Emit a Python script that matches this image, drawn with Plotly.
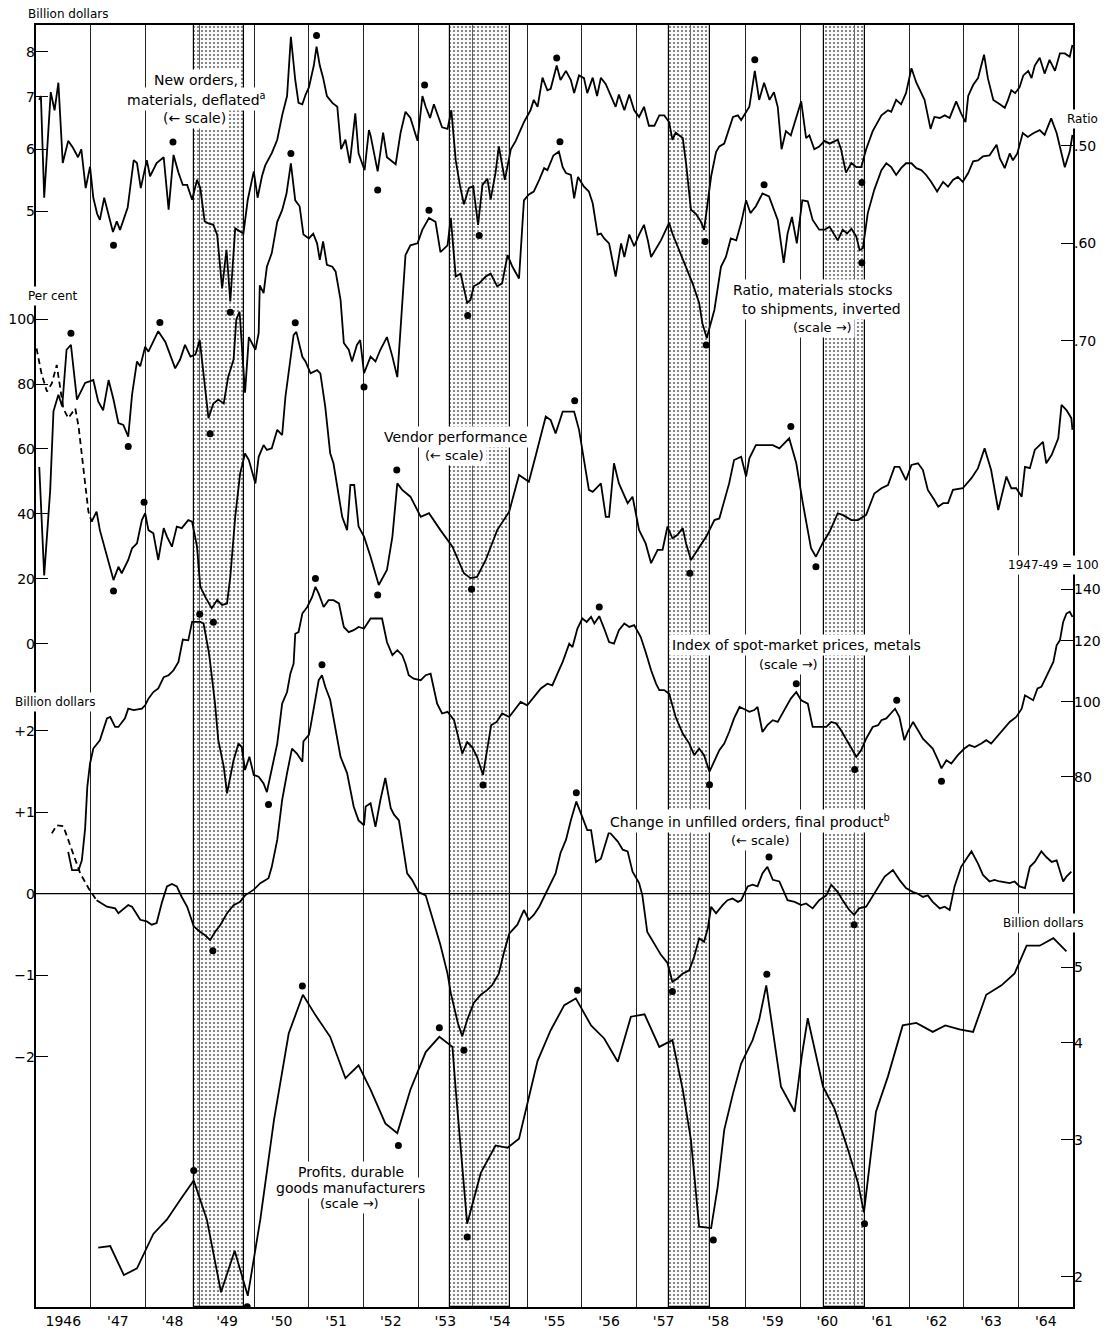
import plotly.graph_objects as go

# ---------------- data ----------------
YEAR_LABELS = ["1946", "'47", "'48", "'49", "'50", "'51", "'52", "'53", "'54", "'55",
               "'56", "'57", "'58", "'59", "'60", "'61", "'62", "'63", "'64"]
RECESSION_START = [1948.90, 1953.58, 1957.59, 1960.43]
RECESSION_END = [1949.82, 1954.68, 1958.35, 1961.18]

# New orders, materials, deflated (billion dollars, log scale, left)
NEW_ORDERS = [
    (1946.06, 6.94), (1946.09, 7.02), (1946.15, 5.2), (1946.27, 7.1), (1946.34, 6.73), (1946.41, 7.3),
    (1946.49, 5.76), (1946.59, 6.15), (1946.68, 6.02), (1946.77, 5.86), (1946.83, 6.0), (1946.91, 5.35),
    (1946.99, 5.7), (1947.05, 5.2), (1947.12, 4.96), (1947.17, 4.87), (1947.25, 5.2), (1947.41, 4.7),
    (1947.48, 4.85), (1947.54, 4.73), (1947.68, 5.05), (1947.79, 5.81), (1947.85, 5.76), (1947.92, 5.35),
    (1948.03, 5.81), (1948.09, 5.54), (1948.21, 5.76), (1948.34, 5.86), (1948.43, 5.02), (1948.52, 5.9),
    (1948.61, 5.6), (1948.69, 5.4), (1948.77, 5.4), (1948.86, 5.17), (1948.95, 5.48), (1949.01, 5.35),
    (1949.09, 4.85), (1949.16, 4.82), (1949.25, 4.8), (1949.32, 4.66), (1949.41, 3.98), (1949.49, 4.46),
    (1949.56, 3.83), (1949.65, 4.75), (1949.80, 4.68), (1949.88, 5.17), (1949.99, 5.62), (1950.06, 5.2),
    (1950.14, 5.54), (1950.20, 5.72), (1950.32, 5.93), (1950.42, 6.17), (1950.51, 6.63), (1950.60, 7.02),
    (1950.67, 8.36), (1950.75, 7.36), (1950.81, 6.88), (1950.88, 6.85), (1950.94, 7.05), (1951.00, 7.2),
    (1951.09, 7.68), (1951.14, 8.12), (1951.20, 7.68), (1951.26, 7.41), (1951.33, 7.02), (1951.43, 6.88),
    (1951.52, 6.8), (1951.59, 6.0), (1951.67, 6.17), (1951.75, 5.76), (1951.85, 6.67), (1951.91, 5.93),
    (1952.02, 5.64), (1952.10, 6.35), (1952.13, 6.25), (1952.26, 5.62), (1952.36, 6.3), (1952.43, 5.86),
    (1952.59, 5.74), (1952.68, 6.3), (1952.77, 6.7), (1952.86, 6.58), (1952.99, 6.15), (1953.08, 7.02),
    (1953.14, 6.8), (1953.22, 6.58), (1953.29, 6.85), (1953.44, 6.4), (1953.54, 6.37), (1953.61, 6.73),
    (1953.69, 5.81), (1953.77, 5.38), (1953.84, 5.1), (1953.93, 5.35), (1954.01, 5.38), (1954.10, 4.8),
    (1954.18, 5.4), (1954.27, 5.5), (1954.33, 5.17), (1954.42, 5.6), (1954.48, 6.05), (1954.54, 5.76),
    (1954.59, 5.48), (1954.70, 6.0), (1954.79, 6.15), (1954.94, 6.5), (1955.06, 6.73), (1955.12, 6.94),
    (1955.19, 6.8), (1955.28, 7.41), (1955.37, 7.14), (1955.43, 7.17), (1955.54, 7.68), (1955.61, 7.36),
    (1955.71, 7.56), (1955.80, 7.36), (1955.86, 7.08), (1955.95, 7.46), (1956.04, 7.40), (1956.10, 7.08),
    (1956.20, 7.41), (1956.28, 7.02), (1956.35, 7.41), (1956.44, 7.27), (1956.53, 7.02), (1956.62, 6.8),
    (1956.68, 7.05), (1956.78, 6.73), (1956.87, 7.05), (1956.96, 6.73), (1957.05, 6.6), (1957.14, 6.8),
    (1957.23, 6.43), (1957.33, 6.43), (1957.42, 6.63), (1957.51, 6.63), (1957.60, 6.5), (1957.66, 6.17),
    (1957.72, 6.3), (1957.85, 6.2), (1957.91, 5.76), (1958.00, 5.02), (1958.09, 4.96), (1958.18, 4.85),
    (1958.24, 4.73), (1958.37, 5.54), (1958.46, 5.95), (1958.52, 6.05), (1958.61, 6.1), (1958.70, 6.4),
    (1958.77, 6.6), (1958.86, 6.63), (1958.92, 6.54), (1959.07, 6.8), (1959.17, 7.56), (1959.25, 6.94),
    (1959.34, 7.3), (1959.44, 6.94), (1959.52, 7.1), (1959.59, 6.8), (1959.66, 6.0), (1959.74, 6.33),
    (1959.83, 6.25), (1960.02, 6.91), (1960.11, 6.2), (1960.17, 6.25), (1960.26, 6.0), (1960.35, 6.05),
    (1960.45, 6.15), (1960.54, 6.1), (1960.69, 6.17), (1960.75, 6.0), (1960.84, 5.6), (1960.94, 5.76),
    (1961.03, 5.69), (1961.12, 5.69), (1961.21, 6.0), (1961.33, 6.33), (1961.49, 6.63), (1961.61, 6.73),
    (1961.67, 6.7), (1961.76, 6.94), (1961.85, 6.85), (1961.94, 7.08), (1962.04, 7.62), (1962.13, 7.3),
    (1962.28, 6.94), (1962.39, 6.37), (1962.46, 6.6), (1962.56, 6.58), (1962.65, 6.63), (1962.74, 6.58),
    (1962.86, 6.91), (1962.95, 6.67), (1963.03, 6.5), (1963.08, 7.02), (1963.17, 7.25), (1963.26, 7.4),
    (1963.37, 7.93), (1963.44, 7.4), (1963.54, 6.94), (1963.66, 6.85), (1963.75, 6.78), (1963.81, 6.94),
    (1963.87, 7.14), (1963.94, 7.08), (1964.02, 7.2), (1964.09, 7.46), (1964.18, 7.56), (1964.24, 7.4),
    (1964.30, 7.68), (1964.39, 7.86), (1964.48, 7.5), (1964.57, 7.81), (1964.67, 7.56), (1964.76, 7.96),
    (1964.85, 7.96), (1964.94, 7.88), (1964.99, 8.16),
]
NEW_ORDERS_DOTS = [(1947.42, 4.52), (1948.51, 6.13), (1949.56, 3.71), (1951.14, 8.39), (1952.26, 5.32),
                   (1953.12, 7.25), (1954.12, 4.65), (1955.54, 7.85), (1958.26, 4.57), (1959.17, 7.81),
                   (1961.13, 5.44)]

# Ratio, materials stocks to shipments (inverted scale, right)
RATIO = [
    (1946.06, 0.829), (1946.15, 0.940), (1946.26, 0.853), (1946.32, 0.772), (1946.41, 0.755), (1946.48, 0.767),
    (1946.56, 0.709), (1946.64, 0.704), (1946.75, 0.760), (1946.90, 0.743), (1947.05, 0.740), (1947.14, 0.762),
    (1947.23, 0.771), (1947.33, 0.740), (1947.42, 0.760), (1947.51, 0.784), (1947.60, 0.786), (1947.69, 0.798),
    (1947.76, 0.755), (1947.85, 0.721), (1947.91, 0.726), (1948.00, 0.706), (1948.06, 0.711), (1948.24, 0.690),
    (1948.37, 0.701), (1948.55, 0.728), (1948.64, 0.719), (1948.73, 0.704), (1948.83, 0.716), (1948.92, 0.714),
    (1949.00, 0.699), (1949.07, 0.737), (1949.16, 0.779), (1949.25, 0.764), (1949.34, 0.760), (1949.44, 0.764),
    (1949.52, 0.737), (1949.62, 0.719), (1949.67, 0.678), (1949.73, 0.670), (1949.83, 0.753), (1949.90, 0.696),
    (1950.02, 0.709), (1950.08, 0.692), (1950.10, 0.643), (1950.17, 0.651), (1950.23, 0.624), (1950.32, 0.610),
    (1950.42, 0.578), (1950.51, 0.566), (1950.59, 0.549), (1950.67, 0.518), (1950.75, 0.556), (1950.83, 0.562),
    (1950.90, 0.591), (1951.00, 0.595), (1951.08, 0.590), (1951.15, 0.600), (1951.20, 0.617), (1951.26, 0.598),
    (1951.33, 0.622), (1951.43, 0.624), (1951.49, 0.629), (1951.58, 0.658), (1951.64, 0.702), (1951.73, 0.709),
    (1951.79, 0.721), (1951.88, 0.704), (1951.94, 0.699), (1952.01, 0.733), (1952.13, 0.716), (1952.22, 0.721),
    (1952.31, 0.709), (1952.43, 0.696), (1952.53, 0.716), (1952.62, 0.737), (1952.68, 0.689), (1952.77, 0.612),
    (1952.86, 0.602), (1952.99, 0.600), (1953.08, 0.586), (1953.20, 0.574), (1953.32, 0.578), (1953.41, 0.609),
    (1953.54, 0.602), (1953.60, 0.574), (1953.69, 0.634), (1953.78, 0.631), (1953.90, 0.661), (1953.96, 0.658),
    (1954.02, 0.644), (1954.12, 0.641), (1954.24, 0.634), (1954.33, 0.631), (1954.45, 0.644), (1954.54, 0.641),
    (1954.64, 0.612), (1954.73, 0.624), (1954.85, 0.636), (1954.94, 0.556), (1955.03, 0.550), (1955.12, 0.547),
    (1955.22, 0.535), (1955.31, 0.523), (1955.37, 0.525), (1955.48, 0.510), (1955.58, 0.506), (1955.65, 0.522),
    (1955.71, 0.528), (1955.80, 0.530), (1955.86, 0.554), (1955.93, 0.532), (1956.04, 0.542), (1956.13, 0.547),
    (1956.20, 0.559), (1956.29, 0.591), (1956.35, 0.590), (1956.41, 0.595), (1956.50, 0.600), (1956.62, 0.634),
    (1956.72, 0.600), (1956.78, 0.614), (1956.87, 0.591), (1956.96, 0.603), (1957.05, 0.591), (1957.14, 0.581),
    (1957.21, 0.597), (1957.27, 0.614), (1957.45, 0.597), (1957.60, 0.579), (1957.66, 0.590), (1957.88, 0.620),
    (1958.03, 0.641), (1958.15, 0.661), (1958.21, 0.682), (1958.29, 0.697), (1958.43, 0.668), (1958.55, 0.624),
    (1958.64, 0.614), (1958.73, 0.595), (1958.83, 0.597), (1958.92, 0.579), (1959.01, 0.556), (1959.09, 0.569),
    (1959.19, 0.562), (1959.31, 0.549), (1959.43, 0.552), (1959.59, 0.576), (1959.70, 0.620), (1959.77, 0.590),
    (1959.85, 0.573), (1959.94, 0.600), (1960.04, 0.556), (1960.14, 0.557), (1960.23, 0.576), (1960.35, 0.586),
    (1960.45, 0.586), (1960.54, 0.583), (1960.69, 0.597), (1960.78, 0.586), (1960.86, 0.590), (1960.94, 0.585),
    (1961.03, 0.593), (1961.09, 0.607), (1961.15, 0.605), (1961.24, 0.569), (1961.36, 0.545), (1961.49, 0.525),
    (1961.58, 0.518), (1961.67, 0.522), (1961.76, 0.530), (1961.85, 0.523), (1961.94, 0.518), (1962.04, 0.518),
    (1962.13, 0.523), (1962.22, 0.525), (1962.31, 0.530), (1962.40, 0.537), (1962.51, 0.547), (1962.62, 0.537),
    (1962.71, 0.542), (1962.80, 0.535), (1962.89, 0.532), (1962.98, 0.537), (1963.08, 0.528), (1963.17, 0.516),
    (1963.26, 0.515), (1963.35, 0.511), (1963.47, 0.510), (1963.60, 0.499), (1963.66, 0.513), (1963.75, 0.523),
    (1963.84, 0.508), (1963.90, 0.515), (1963.98, 0.508), (1964.08, 0.487), (1964.17, 0.491), (1964.28, 0.487),
    (1964.39, 0.484), (1964.48, 0.489), (1964.60, 0.472), (1964.70, 0.487), (1964.85, 0.522), (1964.94, 0.506),
    (1964.99, 0.489),
]
RATIO_DOTS = [(1946.64, 0.692), (1947.69, 0.808), (1948.27, 0.681), (1949.19, 0.795), (1950.67, 0.508),
              (1952.01, 0.747), (1953.20, 0.566), (1953.91, 0.674), (1955.60, 0.496), (1958.28, 0.704),
              (1959.34, 0.540), (1961.13, 0.620)]

# Vendor performance (per cent, left)
VENDOR_EARLY = [(1946.01, 91.0), (1946.10, 83.3), (1946.20, 77.7), (1946.29, 80.2), (1946.38, 85.9),
                (1946.50, 72.5), (1946.59, 69.5), (1946.72, 72.5), (1946.78, 66.9), (1946.87, 53.5),
                (1946.96, 40.7), (1947.02, 37.6)]
VENDOR = [
    (1947.02, 37.6), (1947.11, 40.7), (1947.17, 35.0), (1947.42, 19.6), (1947.51, 23.7), (1947.57, 21.7),
    (1947.69, 25.8), (1947.76, 29.4), (1947.85, 30.9), (1947.94, 38.1), (1948.00, 40.2), (1948.06, 35.0),
    (1948.15, 34.0), (1948.24, 25.8), (1948.34, 35.6), (1948.40, 33.0), (1948.49, 29.9), (1948.58, 36.1),
    (1948.67, 35.6), (1948.79, 38.1), (1948.86, 37.6), (1948.95, 29.9), (1949.01, 17.6), (1949.10, 14.5),
    (1949.22, 10.9), (1949.32, 13.5), (1949.41, 11.9), (1949.50, 12.4), (1949.56, 20.6), (1949.65, 39.1),
    (1949.74, 52.5), (1949.83, 58.6), (1949.90, 56.6), (1950.02, 49.4), (1950.08, 57.6), (1950.17, 61.2),
    (1950.23, 59.7), (1950.32, 60.2), (1950.42, 65.9), (1950.51, 64.3), (1950.57, 76.1), (1950.72, 95.1),
    (1950.77, 96.1), (1950.88, 88.4), (1950.94, 86.9), (1951.03, 83.3), (1951.15, 84.3), (1951.21, 83.3),
    (1951.30, 73.0), (1951.39, 58.7), (1951.45, 55.6), (1951.55, 45.3), (1951.61, 39.1), (1951.70, 35.0),
    (1951.76, 48.9), (1951.83, 48.9), (1951.91, 36.1), (1952.01, 33.0), (1952.13, 26.8), (1952.28, 18.1),
    (1952.43, 22.7), (1952.53, 33.0), (1952.62, 49.4), (1952.71, 47.4), (1952.86, 45.3), (1953.05, 39.1),
    (1953.20, 40.2), (1953.41, 35.0), (1953.63, 29.9), (1953.84, 21.7), (1953.96, 20.2), (1954.08, 20.6),
    (1954.24, 25.8), (1954.45, 35.0), (1954.67, 40.7), (1954.85, 52.0), (1955.03, 49.9), (1955.16, 58.2),
    (1955.34, 70.0), (1955.43, 68.9), (1955.52, 64.8), (1955.65, 71.5), (1955.86, 71.5), (1955.95, 65.9),
    (1956.04, 56.1), (1956.13, 47.4), (1956.20, 46.8), (1956.35, 49.4), (1956.44, 39.1), (1956.50, 39.1),
    (1956.59, 55.6), (1956.68, 49.4), (1956.84, 43.3), (1956.93, 45.3), (1957.05, 35.0), (1957.17, 30.9),
    (1957.27, 24.8), (1957.39, 28.9), (1957.48, 28.9), (1957.57, 36.1), (1957.66, 32.5), (1957.75, 33.5),
    (1957.85, 35.6), (1957.91, 30.9), (1958.00, 25.8), (1958.12, 28.9), (1958.28, 33.0), (1958.43, 38.1),
    (1958.52, 38.6), (1958.70, 49.4), (1958.79, 56.6), (1958.92, 57.6), (1959.01, 51.5), (1959.07, 57.1),
    (1959.19, 61.2), (1959.50, 61.2), (1959.62, 60.2), (1959.80, 63.3), (1959.93, 55.6), (1960.05, 43.3),
    (1960.20, 29.4), (1960.29, 26.8), (1960.41, 30.9), (1960.54, 34.5), (1960.69, 40.2), (1960.78, 39.7),
    (1960.94, 38.1), (1961.06, 38.1), (1961.21, 39.7), (1961.36, 46.3), (1961.49, 47.9), (1961.61, 48.9),
    (1961.73, 54.5), (1961.82, 54.5), (1961.94, 50.4), (1962.04, 55.1), (1962.16, 55.6), (1962.25, 53.5),
    (1962.34, 47.4), (1962.46, 44.3), (1962.53, 42.2), (1962.62, 43.3), (1962.71, 43.3), (1962.80, 47.4),
    (1962.98, 47.9), (1963.14, 51.0), (1963.26, 54.1), (1963.38, 60.2), (1963.50, 53.5), (1963.63, 41.2),
    (1963.78, 51.5), (1963.87, 47.9), (1963.96, 47.9), (1964.06, 45.3), (1964.12, 54.5), (1964.21, 54.1),
    (1964.30, 59.7), (1964.45, 62.2), (1964.51, 55.6), (1964.61, 58.2), (1964.73, 63.3), (1964.79, 73.6),
    (1964.88, 72.0), (1964.97, 69.5), (1964.99, 65.9),
]
VENDOR_DOTS = [(1947.42, 16.2), (1947.98, 43.6), (1949.25, 6.6), (1950.75, 98.9), (1952.26, 15.0),
               (1952.61, 53.5), (1953.98, 16.8), (1955.87, 74.9), (1957.98, 21.7), (1959.83, 66.9),
               (1960.29, 23.7)]

# Index of spot-market prices, metals (1947-49=100, log scale, right)
SPOT_INDEX = [
    (1946.59, 63.9), (1946.66, 60.5), (1946.78, 60.5), (1946.84, 62.3), (1946.90, 68.5), (1946.94, 77.6),
    (1946.99, 83.2), (1947.05, 87.0), (1947.17, 89.2), (1947.30, 95.2), (1947.36, 95.6), (1947.45, 92.8),
    (1947.51, 92.8), (1947.63, 95.2), (1947.69, 98.0), (1947.79, 97.6), (1947.94, 98.0), (1948.00, 99.0),
    (1948.06, 101.0), (1948.15, 103.0), (1948.24, 104.1), (1948.34, 107.7), (1948.43, 108.3), (1948.52, 109.9),
    (1948.61, 112.7), (1948.69, 120.5), (1948.79, 120.2), (1948.86, 127.0), (1949.01, 127.0), (1949.07, 126.4),
    (1949.16, 116.7), (1949.19, 112.7), (1949.28, 99.5), (1949.34, 89.2), (1949.44, 82.4), (1949.50, 76.1),
    (1949.62, 84.0), (1949.71, 88.3), (1949.77, 87.4), (1949.83, 81.6), (1949.91, 84.9), (1949.99, 80.4),
    (1950.08, 80.0), (1950.17, 78.4), (1950.23, 76.4), (1950.32, 81.6), (1950.42, 88.3), (1950.51, 99.5),
    (1950.60, 103.0), (1950.66, 108.8), (1950.72, 112.1), (1950.75, 122.6), (1950.81, 123.2), (1950.88, 130.2),
    (1950.97, 132.8), (1951.06, 136.8), (1951.12, 141.0), (1951.18, 138.2), (1951.27, 132.8), (1951.36, 135.5),
    (1951.45, 135.5), (1951.55, 134.2), (1951.64, 125.1), (1951.73, 123.2), (1951.82, 123.9), (1951.91, 125.1),
    (1952.01, 124.5), (1952.13, 128.3), (1952.34, 128.3), (1952.43, 119.6), (1952.53, 115.0), (1952.62, 116.7),
    (1952.71, 115.0), (1952.77, 112.1), (1952.83, 108.3), (1952.92, 107.2), (1953.05, 106.7), (1953.14, 108.3),
    (1953.23, 108.8), (1953.35, 99.5), (1953.44, 96.6), (1953.54, 97.1), (1953.66, 94.7), (1953.81, 85.7),
    (1953.90, 88.7), (1953.99, 87.4), (1954.08, 84.9), (1954.19, 80.4), (1954.27, 86.6), (1954.34, 93.3),
    (1954.44, 94.2), (1954.54, 96.6), (1954.67, 95.6), (1954.76, 97.6), (1954.88, 100.0), (1955.00, 99.0),
    (1955.12, 101.5), (1955.25, 104.1), (1955.37, 105.6), (1955.46, 105.1), (1955.58, 109.9), (1955.65, 112.7),
    (1955.77, 119.0), (1955.83, 117.8), (1955.92, 124.5), (1956.01, 128.3), (1956.09, 127.0), (1956.17, 128.9),
    (1956.23, 126.4), (1956.32, 129.2), (1956.41, 124.5), (1956.50, 119.6), (1956.59, 119.0), (1956.68, 123.9),
    (1956.78, 126.4), (1956.87, 125.1), (1956.96, 125.8), (1957.08, 121.4), (1957.17, 116.1), (1957.27, 109.9),
    (1957.36, 105.6), (1957.42, 103.6), (1957.51, 103.6), (1957.60, 102.5), (1957.72, 95.6), (1957.85, 91.0),
    (1957.97, 88.3), (1958.06, 85.3), (1958.15, 87.0), (1958.24, 85.3), (1958.34, 81.2), (1958.43, 84.0),
    (1958.52, 86.6), (1958.61, 88.3), (1958.70, 91.4), (1958.79, 95.2), (1958.89, 98.5), (1959.01, 97.6),
    (1959.07, 97.1), (1959.16, 97.6), (1959.22, 98.5), (1959.31, 91.4), (1959.40, 93.3), (1959.50, 94.7),
    (1959.59, 94.2), (1959.71, 97.6), (1959.83, 101.0), (1959.93, 103.0), (1960.02, 100.5), (1960.14, 99.5),
    (1960.23, 92.8), (1960.35, 92.8), (1960.48, 92.8), (1960.57, 94.2), (1960.66, 93.8), (1960.75, 91.9),
    (1960.87, 88.7), (1961.03, 84.9), (1961.12, 86.6), (1961.21, 89.6), (1961.33, 92.8), (1961.43, 93.3),
    (1961.49, 94.7), (1961.58, 95.2), (1961.66, 96.6), (1961.74, 98.0), (1961.82, 95.6), (1961.91, 89.2),
    (1961.97, 91.4), (1962.07, 94.2), (1962.16, 91.9), (1962.25, 89.6), (1962.34, 88.3), (1962.43, 87.0),
    (1962.53, 84.0), (1962.59, 82.0), (1962.68, 84.0), (1962.77, 83.2), (1962.89, 85.3), (1963.01, 87.0),
    (1963.10, 87.9), (1963.20, 87.4), (1963.32, 88.3), (1963.41, 89.2), (1963.50, 88.3), (1963.63, 90.5),
    (1963.75, 92.8), (1963.84, 94.2), (1963.96, 95.6), (1964.06, 98.0), (1964.12, 102.0), (1964.21, 101.0),
    (1964.27, 100.5), (1964.35, 104.1), (1964.42, 104.6), (1964.48, 106.7), (1964.57, 109.9), (1964.64, 112.7),
    (1964.70, 118.4), (1964.76, 120.2), (1964.82, 127.0), (1964.88, 130.2), (1964.94, 130.9), (1964.99, 128.9),
]
SPOT_INDEX_DOTS = [(1949.00, 129.9), (1950.26, 73.6), (1951.12, 144.6), (1954.19, 78.0), (1956.32, 132.8),
                   (1958.34, 78.1), (1959.93, 105.6), (1961.00, 81.7), (1961.77, 100.5), (1962.59, 78.9)]

# Change in unfilled orders, final product (billion dollars, left)
UNFILLED_EARLY = [(1946.29, 0.74), (1946.38, 0.84), (1946.50, 0.83), (1946.59, 0.66), (1946.70, 0.45),
                  (1946.81, 0.25), (1946.96, 0.07), (1947.11, -0.08)]
UNFILLED = [
    (1947.11, -0.08), (1947.30, -0.16), (1947.45, -0.18), (1947.51, -0.24), (1947.69, -0.14), (1947.76, -0.16),
    (1947.91, -0.32), (1948.03, -0.34), (1948.12, -0.38), (1948.21, -0.36), (1948.31, -0.10), (1948.40, 0.09),
    (1948.49, 0.12), (1948.58, 0.09), (1948.67, -0.04), (1948.77, -0.16), (1948.89, -0.40), (1949.01, -0.47),
    (1949.10, -0.51), (1949.19, -0.57), (1949.28, -0.47), (1949.38, -0.38), (1949.50, -0.24), (1949.62, -0.14),
    (1949.74, -0.10), (1949.83, -0.02), (1949.99, 0.05), (1950.11, 0.13), (1950.26, 0.19), (1950.32, 0.33),
    (1950.42, 0.66), (1950.51, 1.15), (1950.60, 1.48), (1950.69, 1.78), (1950.78, 1.72), (1950.88, 1.62),
    (1950.90, 1.87), (1951.00, 1.95), (1951.03, 2.05), (1951.12, 2.38), (1951.18, 2.62), (1951.24, 2.68),
    (1951.30, 2.54), (1951.39, 2.38), (1951.49, 2.03), (1951.58, 1.68), (1951.70, 1.48), (1951.82, 1.07),
    (1951.91, 0.90), (1952.01, 0.84), (1952.04, 1.07), (1952.13, 1.11), (1952.22, 0.82), (1952.31, 1.15),
    (1952.40, 1.42), (1952.50, 1.05), (1952.56, 0.97), (1952.65, 0.90), (1952.71, 0.64), (1952.80, 0.25),
    (1952.89, 0.17), (1953.01, 0.02), (1953.14, -0.02), (1953.26, -0.28), (1953.41, -0.63), (1953.54, -0.98),
    (1953.60, -1.22), (1953.73, -1.59), (1953.81, -1.75), (1953.90, -1.55), (1954.02, -1.34), (1954.15, -1.24),
    (1954.27, -1.18), (1954.36, -1.12), (1954.48, -0.98), (1954.57, -0.73), (1954.67, -0.49), (1954.82, -0.38),
    (1954.94, -0.20), (1955.03, -0.32), (1955.12, -0.26), (1955.22, -0.16), (1955.31, -0.04), (1955.43, 0.13),
    (1955.52, 0.25), (1955.61, 0.50), (1955.71, 0.66), (1955.80, 0.90), (1955.90, 1.13), (1956.01, 0.94),
    (1956.10, 0.78), (1956.17, 0.78), (1956.26, 0.39), (1956.35, 0.43), (1956.50, 0.76), (1956.66, 0.64),
    (1956.75, 0.54), (1956.84, 0.52), (1956.93, 0.27), (1957.05, 0.13), (1957.11, -0.02), (1957.20, -0.47),
    (1957.33, -0.61), (1957.45, -0.75), (1957.57, -0.85), (1957.66, -1.08), (1957.75, -1.04), (1957.85, -0.98),
    (1957.97, -0.94), (1958.06, -0.77), (1958.15, -0.55), (1958.24, -0.59), (1958.31, -0.42), (1958.37, -0.16),
    (1958.46, -0.24), (1958.58, -0.14), (1958.67, -0.08), (1958.76, -0.06), (1958.86, -0.10), (1958.92, -0.08),
    (1959.04, 0.09), (1959.13, 0.11), (1959.22, 0.09), (1959.31, 0.25), (1959.40, 0.33), (1959.50, 0.17),
    (1959.62, 0.15), (1959.71, 0.00), (1959.77, -0.08), (1959.90, -0.10), (1960.02, -0.14), (1960.11, -0.12),
    (1960.23, -0.18), (1960.35, -0.08), (1960.48, -0.02), (1960.57, 0.11), (1960.69, 0.02), (1960.78, -0.08),
    (1960.90, -0.20), (1960.99, -0.26), (1961.08, -0.18), (1961.21, -0.16), (1961.30, -0.06), (1961.43, 0.09),
    (1961.55, 0.21), (1961.70, 0.29), (1961.82, 0.17), (1961.94, 0.07), (1962.07, 0.02), (1962.16, 0.00),
    (1962.25, -0.04), (1962.34, -0.02), (1962.43, -0.10), (1962.56, -0.18), (1962.65, -0.16), (1962.74, -0.20),
    (1962.83, 0.09), (1962.95, 0.33), (1963.14, 0.52), (1963.26, 0.37), (1963.35, 0.23), (1963.47, 0.15),
    (1963.56, 0.17), (1963.66, 0.15), (1963.75, 0.14), (1963.84, 0.13), (1963.93, 0.15), (1964.02, 0.09),
    (1964.12, 0.07), (1964.21, 0.33), (1964.30, 0.39), (1964.42, 0.52), (1964.51, 0.45), (1964.61, 0.39),
    (1964.70, 0.41), (1964.82, 0.15), (1964.88, 0.21), (1964.97, 0.27),
]
UNFILLED_DOTS = [(1949.24, -0.70), (1951.24, 2.81), (1953.84, -1.92), (1955.90, 1.24), (1957.66, -1.20),
                 (1959.43, 0.45), (1960.99, -0.38)]

# Profits, durable goods manufacturers (billion dollars, log scale, right)
PROFITS = [
    (1947.14, 2.18), (1947.36, 2.19), (1947.61, 2.01), (1947.85, 2.05), (1948.15, 2.27), (1948.40, 2.37),
    (1948.64, 2.51), (1948.89, 2.66), (1949.13, 2.37), (1949.39, 1.91), (1949.64, 2.16), (1949.88, 1.89),
    (1950.11, 2.37), (1950.36, 3.18), (1950.63, 4.11), (1950.89, 4.61), (1951.12, 4.34), (1951.39, 4.07),
    (1951.67, 3.60), (1951.91, 3.74), (1952.13, 3.48), (1952.40, 3.15), (1952.62, 3.06), (1952.86, 3.48),
    (1953.14, 3.89), (1953.39, 4.07), (1953.63, 3.95), (1953.69, 3.48), (1953.90, 2.34), (1954.15, 2.72),
    (1954.42, 2.95), (1954.64, 2.93), (1954.85, 3.01), (1955.03, 3.41), (1955.19, 3.79), (1955.43, 4.15),
    (1955.68, 4.47), (1955.89, 4.56), (1956.17, 4.21), (1956.41, 4.05), (1956.66, 3.78), (1956.90, 4.32),
    (1957.15, 4.35), (1957.42, 3.95), (1957.66, 4.03), (1957.85, 3.48), (1958.00, 3.00), (1958.15, 2.32),
    (1958.37, 2.31), (1958.49, 2.61), (1958.61, 3.09), (1958.77, 3.44), (1958.92, 3.76), (1959.13, 4.03),
    (1959.25, 4.28), (1959.38, 4.74), (1959.65, 3.51), (1959.90, 3.26), (1960.03, 3.84), (1960.14, 4.30),
    (1960.42, 3.51), (1960.63, 3.29), (1960.88, 2.91), (1961.06, 2.64), (1961.17, 2.42), (1961.39, 3.26),
    (1961.61, 3.62), (1961.88, 4.21), (1962.13, 4.24), (1962.43, 4.13), (1962.66, 4.21), (1962.92, 4.16),
    (1963.17, 4.13), (1963.41, 4.61), (1963.69, 4.74), (1963.93, 4.91), (1964.15, 5.33), (1964.39, 5.33),
    (1964.64, 5.45), (1964.88, 5.24),
]
PROFITS_DOTS = [(1948.89, 2.74), (1949.87, 1.83), (1950.88, 4.73), (1952.64, 2.95), (1953.39, 4.18),
                (1953.90, 2.25), (1955.92, 4.67), (1958.41, 2.23), (1959.39, 4.90), (1961.18, 2.34)]

# ---------------- figure ----------------
# the page body adds an 8px offset, so the figure is sized to fill the rest of the window
OFF = 8
W, H = 1109 - OFF, 1329 - OFF
ML, MR, MT, MB = 36 - OFF, 36, 25 - OFF, 22
PW, PH = W - ML - MR, H - MT - MB
FONT = "DejaVu Sans"
LINE = dict(color="black", width=1.8)


def xy(pairs):
    return [p[0] for p in pairs], [p[1] for p in pairs]


fig = go.Figure()

# recession shading (stippled bands)
fig.add_trace(go.Bar(
    x=[(s + e) / 2 for s, e in zip(RECESSION_START, RECESSION_END)],
    y=[1] * len(RECESSION_START), base=0,
    width=[e - s for s, e in zip(RECESSION_START, RECESSION_END)],
    marker=dict(color="#777777",
                pattern=dict(shape=".", fgcolor="#6a6a6a", bgcolor="rgba(240,240,240,0.3)",
                             size=4, solidity=0.22, fillmode="replace"),
                line=dict(color="black", width=1.2)),
    xaxis="x", yaxis="y", hoverinfo="skip", showlegend=False))


def add_line(pairs, axis, dash=None):
    x, y = xy(pairs)
    ln = dict(LINE)
    if dash:
        ln["dash"] = dash
    fig.add_trace(go.Scatter(x=x, y=y, mode="lines", line=ln, xaxis="x", yaxis=axis,
                             hoverinfo="skip", showlegend=False))


def add_dots(pairs, axis):
    x, y = xy(pairs)
    fig.add_trace(go.Scatter(x=x, y=y, mode="markers", marker=dict(color="black", size=7),
                             xaxis="x", yaxis=axis, hoverinfo="skip", showlegend=False))


add_line(NEW_ORDERS, "y2"); add_dots(NEW_ORDERS_DOTS, "y2")
add_line(VENDOR_EARLY, "y3", dash="6px,4px"); add_line(VENDOR, "y3"); add_dots(VENDOR_DOTS, "y3")
add_line(UNFILLED_EARLY, "y4", dash="6px,4px"); add_line(UNFILLED, "y4"); add_dots(UNFILLED_DOTS, "y4")
add_line(RATIO, "y5"); add_dots(RATIO_DOTS, "y5")
add_line(SPOT_INDEX, "y6"); add_dots(SPOT_INDEX_DOTS, "y6")
add_line(PROFITS, "y7"); add_dots(PROFITS_DOTS, "y7")

tickfont = dict(family=FONT, size=14, color="black")
common = dict(overlaying="y", showgrid=False, zeroline=False, showline=False, ticks="inside",
              ticklen=12, tickwidth=1.3, tickcolor="black", tickfont=tickfont, fixedrange=True,
              tickmode="array", automargin=False)

fig.update_layout(
    width=W, height=H, margin=dict(l=ML, r=MR, t=MT, b=MB, autoexpand=False),
    paper_bgcolor="white", plot_bgcolor="white",
    font=dict(family=FONT, size=14, color="black"),
    bargap=0, barmode="overlay", showlegend=False,
    xaxis=dict(range=[1946, 1965], tickmode="array", tickvals=[1946.5 + i for i in range(19)],
               ticktext=YEAR_LABELS, ticks="", showgrid=False, zeroline=False, showline=True,
               mirror=True, linecolor="black", linewidth=1.5, fixedrange=True, automargin=False,
               tickfont=dict(family=FONT, size=14, color="black"),
               minor=dict(tickmode="linear", tick0=1946, dtick=1, showgrid=True,
                          gridcolor="#222222", gridwidth=1, ticks="")),
    yaxis=dict(range=[0, 1], showticklabels=False, ticks="", showgrid=False, zeroline=False,
               showline=True, mirror=True, linecolor="black", linewidth=1.5, fixedrange=True,
               automargin=False),
    yaxis2=dict(side="left", type="log", range=[-0.7052, 0.9373], tickvals=[5, 6, 7, 8],
                ticktext=["5", "6", "7", "8"], **common),
    yaxis3=dict(side="left", range=[-204.41, 190.66], tickvals=[0, 20, 40, 60, 80, 100],
                ticktext=["0", "20", "40", "60", "80", "100"], **common),
    yaxis4=dict(side="left", range=[-5.071, 10.659], tickvals=[-2, -1, 0, 1, 2],
                ticktext=["\u22122", "\u22121", "0", "+1", "+2"], **common),
    yaxis5=dict(side="right", range=[1.6893, 0.3764], tickvals=[0.5, 0.6, 0.7],
                ticktext=[".50", ".60", ".70"], **common),
    yaxis6=dict(side="right", type="log", range=[1.2152, 2.8780], tickvals=[80, 100, 120, 140],
                ticktext=["80", "100", "120", "140"], **common),
    yaxis7=dict(side="right", type="log", range=[0.26212, 1.91078], tickvals=[2, 3, 4, 5],
                ticktext=["2", "3", "4", "5"], **common),
)

# zero line of the unfilled-orders scale
fig.add_shape(type="line", xref="paper", x0=0, x1=1, yref="y4", y0=0, y1=0,
              line=dict(color="black", width=1.2))


def ann(text, px, py, size=14, xanchor="center", bg=True):
    # px, py: position in the window (plot area spans x 36..1073, y 25..1307)
    fig.add_annotation(text=text, x=(px - 36) / PW, y=1 - (py - 25) / PH, xref="paper", yref="paper",
                       xanchor=xanchor, yanchor="middle", showarrow=False,
                       font=dict(family=FONT, size=size, color="black"),
                       bgcolor="white" if bg else "rgba(0,0,0,0)", borderpad=2)


# unit labels
ann("Billion dollars", 25, 14, size=12, xanchor="left", bg=False)
ann("Per cent", 25, 296, size=12, xanchor="left")
ann("Billion dollars", 12, 702, size=12, xanchor="left")
ann("Ratio", 1082, 119, size=12)
ann("1947-49 = 100", 1053, 565, size=12)
ann("Billion dollars", 1043, 923, size=12)

# series labels
ann("New orders,", 196, 80)
ann("materials, deflated<sup>a</sup>", 196, 99)
ann("(\u2190 scale)", 194, 118)

ann("Ratio, materials stocks", 812, 290)
ann("to shipments, inverted", 821, 309)
ann("(scale \u2192)", 822, 327, size=13)

ann("Vendor performance", 455, 437)
ann("(\u2190 scale)", 454, 456, size=13)

ann("Index of spot-market prices, metals", 796, 645)
ann("(scale \u2192)", 788, 664, size=13)

ann("Change in unfilled orders, final product<sup>b</sup>", 750, 821)
ann("(\u2190 scale)", 760, 840, size=13)

ann("Profits, durable", 351, 1172)
ann("goods manufacturers", 350, 1188)
ann("(scale \u2192)", 349, 1203, size=13)

fig.write_html("out.html")
